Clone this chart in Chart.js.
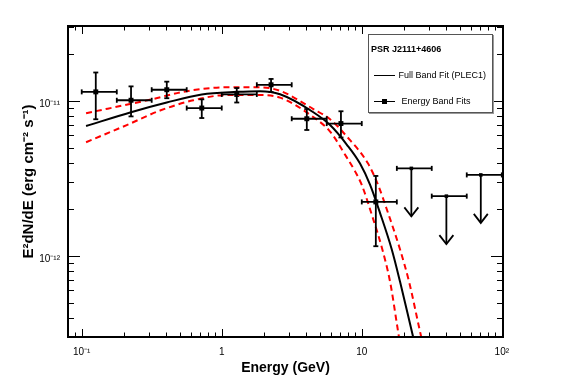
<!DOCTYPE html>
<html>
<head>
<meta charset="utf-8">
<script src="https://cdn.jsdelivr.net/npm/chart.js@4.4.1/dist/chart.umd.min.js"></script>
<style>
  body { margin: 0; background: #fff; }
  #wrap { position: relative; width: 567px; height: 384px; font-family: "Liberation Sans", Arial, sans-serif; }
  #legend { position: absolute; left: 368px; top: 34px; width: 125px; height: 79px; box-sizing: border-box;
            border: 1px solid #555; box-shadow: 1px 1px 0 #999; background: #fff; }
  #legend .hdr { position: absolute; left: 2px; top: 9px; font-size: 9px; font-weight: bold; }
  #legend .item { position: absolute; left: 5px; font-size: 9px; height: 10px; line-height: 10px; }
  #legend .smp { position: absolute; left: 0; top: 5px; width: 21px; border-top: 1px solid #000; }
  #legend .mk { position: absolute; left: 8px; top: 3px; width: 5px; height: 5px; background: #000; }
</style>
</head>
<body>
<div id="wrap">
  <canvas id="sed" width="567" height="384"></canvas>
  <div id="legend"></div>
</div>
<script>
// Energy band fits (GeV, erg cm^-2 s^-1)
const bandE      = [0.126, 0.225, 0.405, 0.72, 1.28, 2.25, 4.05, 7.1, 12.6];
const bandELo    = [0.1, 0.178, 0.316, 0.562, 1.0, 1.78, 3.16, 5.62, 10.0];
const bandEHi    = [0.178, 0.316, 0.562, 1.0, 1.78, 3.16, 5.62, 10.0, 17.8];
const bandFlux   = [1.143e-11, 1.009e-11, 1.18e-11, 8.99e-12, 1.10e-11, 1.27e-11, 7.67e-12, 7.14e-12, 2.23e-12];
const bandFluxLo = [7.61e-12, 7.94e-12, 1.04e-11, 7.75e-12, 9.76e-12, 1.14e-11, 6.49e-12, 5.81e-12, 1.155e-12];
const bandFluxHi = [1.524e-11, 1.24e-11, 1.33e-11, 1.023e-11, 1.21e-11, 1.385e-11, 8.86e-12, 8.57e-12, 3.28e-12];

// upper limits
const ulE    = [22.6, 40.2, 70.8];
const ulELo  = [17.8, 31.6, 56.2];
const ulEHi  = [31.6, 56.2, 100];
const ulFlux = [3.67e-12, 2.43e-12, 3.33e-12];

// full band fit (PLEC1)
const fitE    = [0.1074, 0.2249, 0.4047, 0.7197, 1.28, 1.877, 2.609, 4.51, 5.94, 7.81, 9.72, 11.47, 13.51, 16.38, 18.77, 22.39, 23.63];
const fitFlux = [6.88e-12, 8.45e-12, 9.76e-12, 1.10e-11, 1.143e-11, 1.155e-11, 1.103e-11, 8.45e-12, 6.98e-12, 5.23e-12, 3.94e-12, 2.87e-12, 1.89e-12, 1.10e-12, 6.81e-13, 3.48e-13, 2.83e-13];

// 1 sigma band, upper and lower edge
const upE    = [0.1074, 0.3162, 0.5623, 1.086, 1.877, 2.609, 4.51, 5.94, 7.81, 11.09, 13.08, 15.41, 18.77, 21.77, 25.64, 26.96];
const upFlux = [8.33e-12, 1.023e-11, 1.155e-11, 1.223e-11, 1.223e-11, 1.16e-11, 8.86e-12, 7.61e-12, 5.90e-12, 3.94e-12, 2.87e-12, 1.89e-12, 1.10e-12, 6.81e-13, 3.48e-13, 2.83e-13];
const loE    = [0.1074, 0.2096, 0.3625, 0.6267, 1.086, 1.877, 2.609, 4.51, 5.94, 7.81, 8.96, 10.0, 11.94, 14.03, 15.93, 17.96, 18.62];
const loFlux = [5.41e-12, 6.98e-12, 8.66e-12, 1.009e-11, 1.09e-11, 1.09e-11, 1.049e-11, 7.86e-12, 6.34e-12, 4.32e-12, 3.51e-12, 2.87e-12, 1.78e-12, 1.10e-12, 6.81e-13, 3.48e-13, 2.83e-13];

const xTicks = [0.1, 1, 10, 100];
const xTickLabels = ["10\u207B\u00B9", "1", "10", "10\u00B2"];
const yTicks = [1e-12, 1e-11];
const yTickLabels = ["10\u207B\u00B9\u00B2", "10\u207B\u00B9\u00B9"];

const sourceName = "PSR J2111+4606";

const FONT = '"Liberation Sans", Arial, sans-serif';
const pts = (xs, ys) => xs.map((v, i) => ({x: v, y: ys[i]}));

// error bars, upper limit arrows, ROOT style frame with inner ticks
const rootFrame = {
    id: "rootFrame",
    afterDatasetsDraw(chart) {
        const {ctx, chartArea: a, scales: {x, y}} = chart;
        const seg = (x1, y1, x2, y2) => { ctx.beginPath(); ctx.moveTo(x1, y1); ctx.lineTo(x2, y2); ctx.stroke(); };
        ctx.save();
        ctx.strokeStyle = "#000";
        ctx.lineWidth = 1.8;
        const cap = 2.5;

        bandE.forEach((e, i) => {
            const cx = x.getPixelForValue(e), cy = y.getPixelForValue(bandFlux[i]);
            const x1 = x.getPixelForValue(bandELo[i]), x2 = x.getPixelForValue(bandEHi[i]);
            const y1 = y.getPixelForValue(bandFluxHi[i]), y2 = y.getPixelForValue(bandFluxLo[i]);
            seg(x1, cy, x2, cy);
            seg(x1, cy - cap, x1, cy + cap);
            seg(x2, cy - cap, x2, cy + cap);
            seg(cx, y1, cx, y2);
            seg(cx - cap, y1, cx + cap, y1);
            seg(cx - cap, y2, cx + cap, y2);
        });

        ulE.forEach((e, i) => {
            const cx = x.getPixelForValue(e), cy = y.getPixelForValue(ulFlux[i]);
            const x1 = x.getPixelForValue(ulELo[i]), x2 = x.getPixelForValue(ulEHi[i]);
            const tip = cy + 48;
            seg(x1, cy, x2, cy);
            seg(x1, cy - cap, x1, cy + cap);
            seg(x2, cy - cap, x2, cy + cap);
            seg(cx, cy, cx, tip);
            ctx.beginPath();
            ctx.moveTo(cx - 7, tip - 9);
            ctx.lineTo(cx, tip);
            ctx.lineTo(cx + 7, tip - 9);
            ctx.stroke();
        });

        // frame
        ctx.lineWidth = 2;
        ctx.strokeRect(a.left, a.top, a.right - a.left, a.bottom - a.top);

        ctx.lineWidth = 1;
        for (let p = -2; p <= 2; p++) {
            for (let k = 1; k < 10; k++) {
                const v = k * Math.pow(10, p);
                if (v < x.min || v > x.max) continue;
                const px = Math.round(x.getPixelForValue(v)) + 0.5;
                const len = k === 1 ? 8 : 4.5;
                seg(px, a.bottom, px, a.bottom - len);
                seg(px, a.top, px, a.top + len);
            }
        }
        for (let p = -14; p <= -10; p++) {
            for (let k = 1; k < 10; k++) {
                const v = k * Math.pow(10, p);
                if (v < y.min || v > y.max) continue;
                const py = Math.round(y.getPixelForValue(v)) + 0.5;
                const len = k === 1 ? 12 : 6;
                seg(a.left, py, a.left + len, py);
                seg(a.right, py, a.right - len, py);
            }
        }
        ctx.restore();
    }
};

const ctx = document.getElementById("sed").getContext("2d");
const chart = new Chart(ctx, {
    type: "scatter",
    data: {
        datasets: [
            {
                type: "line", label: "Full Band Fit (PLEC1)",
                data: pts(fitE, fitFlux),
                borderColor: "#000", borderWidth: 2, pointRadius: 0,
                cubicInterpolationMode: "monotone", fill: false
            },
            {
                type: "line", label: "band upper",
                data: pts(upE, upFlux),
                borderColor: "#ff0000", borderWidth: 2, borderDash: [6, 4], pointRadius: 0,
                cubicInterpolationMode: "monotone", fill: false
            },
            {
                type: "line", label: "band lower",
                data: pts(loE, loFlux),
                borderColor: "#ff0000", borderWidth: 2, borderDash: [6, 4], pointRadius: 0,
                cubicInterpolationMode: "monotone", fill: false
            },
            {
                label: "Energy Band Fits",
                data: pts(bandE, bandFlux),
                pointStyle: "rect", pointRadius: 3.5,
                backgroundColor: "#000", borderColor: "#000", borderWidth: 0
            },
            {
                label: "upper limits",
                data: pts(ulE, ulFlux),
                pointStyle: "rect", pointRadius: 2.5,
                backgroundColor: "#000", borderColor: "#000", borderWidth: 0
            }
        ]
    },
    options: {
        responsive: false,
        animation: false,
        layout: { padding: { left: 0, right: 64, top: 26, bottom: 0 } },
        plugins: { legend: { display: false }, tooltip: { enabled: false } },
        scales: {
            x: {
                type: "logarithmic", min: 0.0798, max: 102,
                grid: { display: false, drawTicks: false },
                border: { display: false },
                afterBuildTicks: s => { s.ticks = xTicks.map(v => ({ value: v })); },
                afterFit: s => { s.height = 47; },
                ticks: {
                    autoSkip: false, maxRotation: 0, padding: 9, color: "#000",
                    font: { family: FONT, size: 10 },
                    callback: (v, i) => xTickLabels[i]
                },
                title: {
                    display: true, text: "Energy (GeV)", color: "#000",
                    font: { family: FONT, size: 14, weight: "bold" },
                    padding: { top: 0, bottom: 7.6 }
                }
            },
            y: {
                type: "logarithmic", min: 3.45e-13, max: 3.04e-11,
                grid: { display: false, drawTicks: false },
                border: { display: false },
                afterBuildTicks: s => { s.ticks = yTicks.map(v => ({ value: v })); },
                afterFit: s => { s.width = 68; },
                ticks: {
                    autoSkip: false, padding: 8, color: "#000", labelOffset: 3,
                    font: { family: FONT, size: 10 },
                    callback: (v, i) => yTickLabels[i]
                },
                title: {
                    display: true, text: "E\u00B2dN/dE (erg cm\u207B\u00B2 s\u207B\u00B9)", color: "#000",
                    font: { family: FONT, size: 15, weight: "bold" },
                    padding: { top: 19.5, bottom: 0 }
                }
            }
        }
    },
    plugins: [rootFrame]
});

// legend box, built from the dataset labels
const legend = document.getElementById("legend");
legend.innerHTML =
    '<div class="hdr">' + sourceName + '</div>' +
    '<div class="item" style="top:35px"><div class="smp"></div><span style="margin-left:24.5px">' + chart.data.datasets[0].label + '</span></div>' +
    '<div class="item" style="top:61px"><div class="smp"></div><div class="mk"></div><span style="margin-left:27.5px">' + chart.data.datasets[3].label + '</span></div>';
</script>
</body>
</html>
